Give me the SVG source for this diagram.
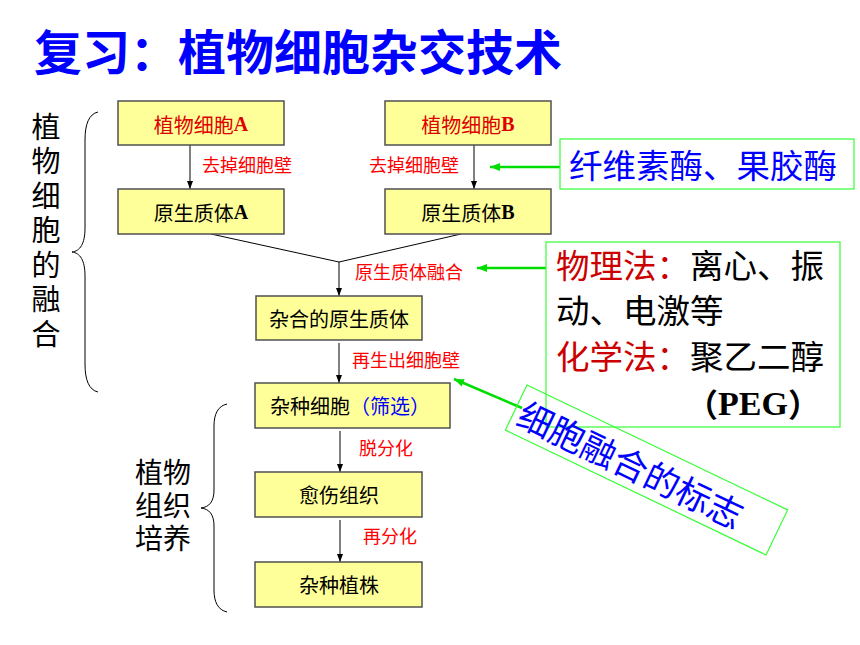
<svg xmlns="http://www.w3.org/2000/svg" width="860" height="645" viewBox="0 0 860 645">
<style>
.t{font-family:"Noto Sans CJK SC","Liberation Sans",sans-serif;dominant-baseline:central}
.v{font-family:"Noto Sans CJK SC","Liberation Sans",sans-serif;writing-mode:vertical-rl}
.box{fill:#ffff99;stroke:#505050;stroke-width:1.5}
.bt{font-size:20px;text-anchor:middle}
.lbl{font-size:18px;fill:#ff0000}
.lat{font-family:"Liberation Serif",serif;font-weight:bold}
.ln{stroke:#000;stroke-width:1;fill:none}
.g{fill:none;stroke:#33ff33;stroke-width:1.2}
.ga{stroke:#00dd00;stroke-width:2.5;fill:none}
</style>
<defs>
<marker id="ah" viewBox="0 0 8 8" refX="8" refY="4" markerWidth="8" markerHeight="8" markerUnits="userSpaceOnUse" orient="auto">
<path d="M0,1 L8,4 L0,7 Z" fill="#000"/>
</marker>
<marker id="gh" viewBox="0 0 10 10" refX="10" refY="5" markerWidth="10" markerHeight="10" markerUnits="userSpaceOnUse" orient="auto">
<path d="M0,1 L10,5 L0,9 Z" fill="#00dd00"/>
</marker>
</defs>
<rect width="860" height="645" fill="#fff"/>
<text class="t" x="34" y="49" font-size="48" font-weight="bold" fill="#0000ff">复习：植物细胞杂交技术</text>

<g id="left-label">
<text class="v" x="46" y="112" font-size="29" letter-spacing="5.5" fill="#000">植物细胞的融合</text>
<path class="ln" d="M98,112 C89,114 85,124 85,140 L85,228 C85,244 80,251 72,252 C80,253 85,260 85,276 L85,364 C85,380 89,390 98,392"/>
</g>
<g id="left-label2">
<text class="t" font-size="28" fill="#000" x="135 163 135 163 135 163" y="471 471 504 504 537 537">植物组织培养</text>
<path class="ln" d="M227,404 C218,406 214,414 214,426 L214,490 C214,502 209,507 201,508 C209,509 214,514 214,526 L214,590 C214,602 218,610 227,612"/>
</g>

<g id="connectors">
<line class="ln" x1="190" y1="145" x2="190" y2="189" marker-end="url(#ah)"/>
<line class="ln" x1="474" y1="145" x2="474" y2="189" marker-end="url(#ah)"/>
<polyline class="ln" points="211,234 339,262 461,234"/>
<line class="ln" x1="339" y1="262" x2="339" y2="296" marker-end="url(#ah)"/>
<line class="ln" x1="339" y1="343" x2="339" y2="383" marker-end="url(#ah)"/>
<line class="ln" x1="340" y1="431" x2="340" y2="472" marker-end="url(#ah)"/>
<line class="ln" x1="340" y1="520" x2="340" y2="562" marker-end="url(#ah)"/>
<line class="ga" x1="560" y1="167" x2="490" y2="167" marker-end="url(#gh)"/>
<line class="ga" x1="546" y1="268" x2="477" y2="268" marker-end="url(#gh)"/>
<line class="ga" x1="522" y1="408" x2="454" y2="379" marker-end="url(#gh)"/>
<g class="t lbl">
<text x="202" y="164">去掉细胞壁</text>
<text x="369" y="164">去掉细胞壁</text>
<text x="355" y="271">原生质体融合</text>
<text x="352" y="359">再生出细胞壁</text>
<text x="359" y="447">脱分化</text>
<text x="363" y="535">再分化</text>
</g>
</g>

<g id="cellA"><rect class="box" x="118" y="101" width="166" height="44"/>
<text class="t bt" x="201" y="124" fill="#dd0000">植物细胞<tspan class="lat">A</tspan></text></g>
<g id="cellB"><rect class="box" x="385" y="101" width="166" height="44"/>
<text class="t bt" x="468" y="124" fill="#dd0000">植物细胞<tspan class="lat">B</tspan></text></g>
<g id="protoA"><rect class="box" x="118" y="189" width="166" height="45"/>
<text class="t bt" x="201" y="212" fill="#000">原生质体<tspan class="lat">A</tspan></text></g>
<g id="protoB"><rect class="box" x="385" y="189" width="166" height="45"/>
<text class="t bt" x="468" y="212" fill="#000">原生质体<tspan class="lat">B</tspan></text></g>
<g id="hybridProto"><rect class="box" x="256" y="296" width="166" height="44"/>
<text class="t bt" x="339" y="318" fill="#000">杂合的原生质体</text></g>
<g id="hybridCell"><rect class="box" x="255" y="383" width="195" height="45"/>
<text class="t bt" x="350" y="405" fill="#000">杂种细胞<tspan fill="#0000ff">（筛选）</tspan></text></g>
<g id="callus"><rect class="box" x="255" y="472" width="167" height="45"/>
<text class="t bt" x="339" y="494" fill="#000">愈伤组织</text></g>
<g id="plant"><rect class="box" x="255" y="562" width="167" height="45"/>
<text class="t bt" x="339" y="584" fill="#000">杂种植株</text></g>

<g id="enzymes"><rect class="g" x="560" y="139" width="294" height="50"/>
<text class="t" x="569" y="163" font-size="33.5" fill="#0000ff">纤维素酶、果胶酶</text></g>

<g id="methods"><rect class="g" x="546" y="242" width="294" height="185"/>
<g class="t" font-size="33.5" fill="#000">
<text x="556" y="263"><tspan fill="#cc0000">物理法：</tspan>离心、振</text>
<text x="556" y="308">动、电激等</text>
<text x="556" y="354"><tspan fill="#cc0000">化学法：</tspan>聚乙二醇</text>
<text x="686" y="403" font-size="32" font-weight="bold">（<tspan class="lat" font-size="34">PEG</tspan>）</text>
</g></g>

<g id="marker-note" transform="translate(646.5,470) rotate(25.6)">
<rect class="g" x="-144.5" y="-25" width="289" height="50"/>
<text class="t" x="-139" y="0" font-size="35" fill="#0000ff">细胞融合的标志</text>
</g>
</svg>
